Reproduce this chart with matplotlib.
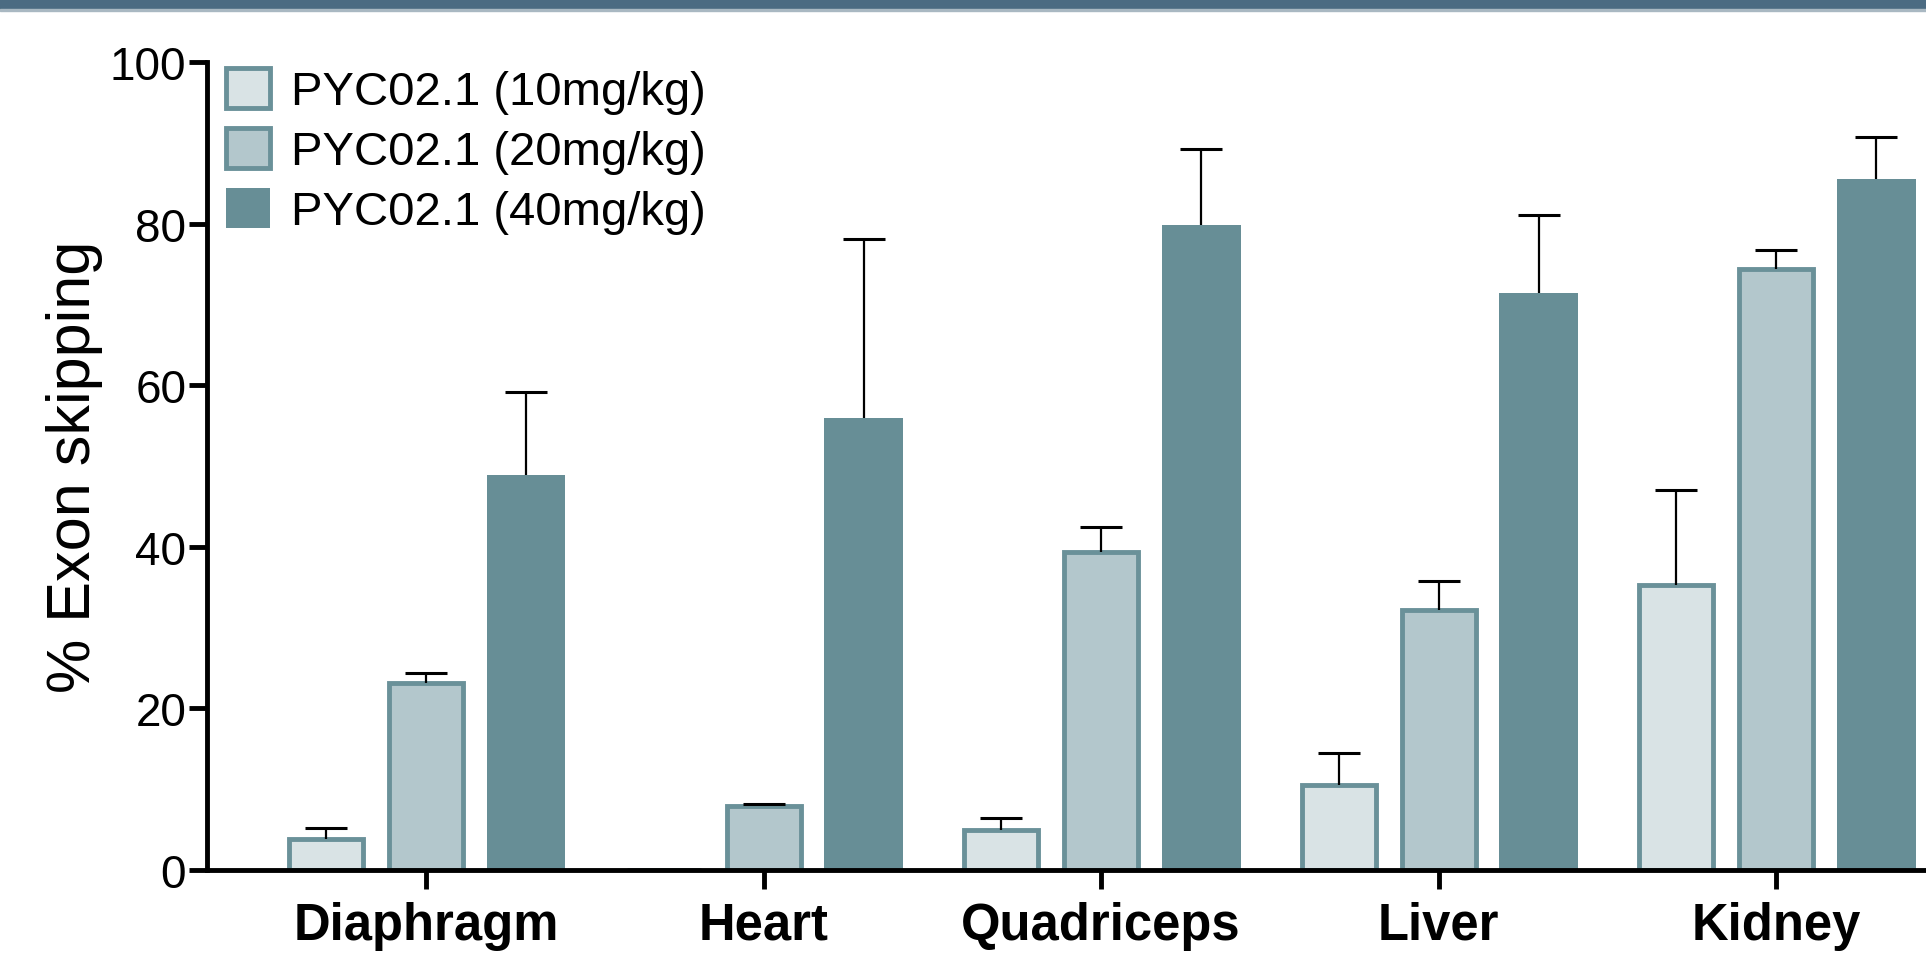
import numpy as np
import matplotlib
matplotlib.use("Agg")
import matplotlib.pyplot as plt
from matplotlib.patches import Rectangle

plt.rcParams['font.family'] = ['Liberation Sans', 'DejaVu Sans']

tissues = ["Diaphragm", "Heart", "Quadriceps", "Liver", "Kidney"]
series = ["PYC02.1 (10mg/kg)", "PYC02.1 (20mg/kg)", "PYC02.1 (40mg/kg)"]

dose10 = [3.8, 0.0, 5.0, 10.5, 35.3]
dose10_err = [1.4, 0.0, 1.4, 4.0, 11.7]
dose20 = [23.1, 7.9, 39.4, 32.2, 74.4]
dose20_err = [1.3, 0.3, 3.1, 3.6, 2.3]
dose40 = [48.9, 55.9, 79.8, 71.4, 85.5]
dose40_err = [10.3, 22.2, 9.4, 9.6, 5.2]

light = "#d9e3e5"
mid = "#b3c7cc"
dark = "#678e96"
edge = "#6a9199"

fig = plt.figure(figsize=(19.26, 9.54), dpi=100)
ax = fig.add_axes([0.1075, 0.087, 0.8925, 0.847])

x = np.arange(len(tissues))
off = 0.296
w = 0.234
lw = 3.5
w_in = w - 0.0144

ax.bar(x - off, dose10, w_in, color=light, edgecolor=edge, linewidth=lw, label=series[0])
ax.bar(x, dose20, w_in, color=mid, edgecolor=edge, linewidth=lw, label=series[1])
ax.bar(x + off, dose40, w, color=dark, linewidth=0, label=series[2])

# upper error bars only, no cap at the bar top
for xs, vals, errs in [(x - off, dose10, dose10_err), (x, dose20, dose20_err), (x + off, dose40, dose40_err)]:
    _, caps, _ = ax.errorbar(xs, vals, yerr=[np.zeros(len(errs)), errs], fmt="none",
                             ecolor="black", elinewidth=1.6, capsize=15, capthick=2.2)
    for c in caps:
        if np.allclose(c.get_ydata(), vals):
            c.set_visible(False)

ax.set_xlim(-0.649, 4.444)
ax.set_ylim(0, 100)
ax.set_yticks([0, 20, 40, 60, 80, 100])
ax.set_xticks(x)
ax.set_xticklabels(tissues, fontsize=36.5, fontweight="bold")
ax.tick_params(axis="y", labelsize=33, length=13, width=3.5, pad=2)
ax.tick_params(axis="x", length=14, width=3.5, pad=8)
ax.set_ylabel("% Exon skipping", fontsize=44, labelpad=5)

for s in ["top", "right"]:
    ax.spines[s].set_visible(False)
for s in ["left", "bottom"]:
    ax.spines[s].set_linewidth(3.5)

ax.legend(loc="upper left", bbox_to_anchor=(0.1173, 0.928), bbox_transform=fig.transFigure,
          frameon=False, fontsize=34, handlelength=0.93, handleheight=0.93,
          handletextpad=0.45, labelspacing=0.29, borderpad=0, borderaxespad=0)

# header band at the top
fig.add_artist(Rectangle((0, 1 - 10 / 954), 1, 10 / 954, transform=fig.transFigure,
                         color="#4b6b82", zorder=10))
fig.add_artist(Rectangle((0, 1 - 12 / 954), 1, 2 / 954, transform=fig.transFigure,
                         color="#a9b8c2", zorder=10))

fig.savefig("out.png", dpi=100)
